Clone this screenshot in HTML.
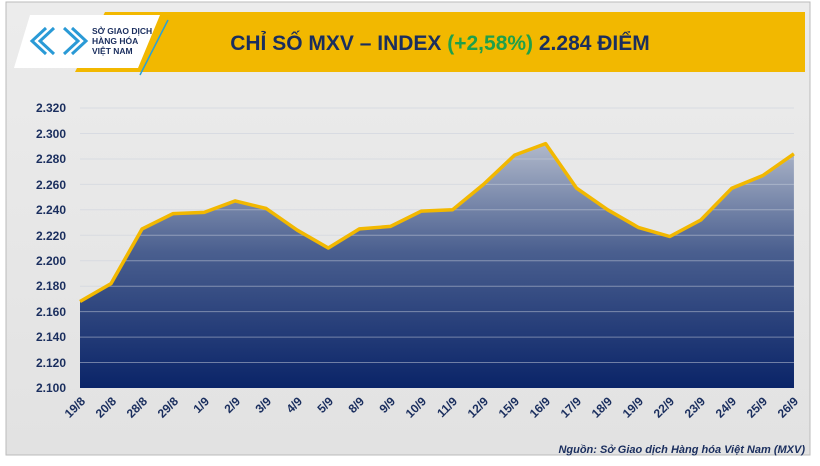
<!DOCTYPE html>
<html><head><meta charset="utf-8"><style>
body{margin:0;width:820px;height:461px;overflow:hidden;background:#fff;font-family:"Liberation Sans",sans-serif}
</style></head><body>
<svg width="820" height="461" xmlns="http://www.w3.org/2000/svg" font-family="Liberation Sans, sans-serif">
<defs>
<linearGradient id="g" gradientUnits="userSpaceOnUse" x1="0" y1="140" x2="0" y2="388">
<stop offset="0" stop-color="#b4bccd"/><stop offset="0.45" stop-color="#4a5f8f"/><stop offset="1" stop-color="#0a2468"/></linearGradient>
<linearGradient id="bg" x1="0" y1="0" x2="0" y2="1"><stop offset="0" stop-color="#ececec"/><stop offset="1" stop-color="#e2e2e2"/></linearGradient>
</defs>
<rect x="0" y="0" width="820" height="461" fill="#fff"/>
<rect x="6" y="2" width="804" height="453" fill="url(#bg)" stroke="#bbb" stroke-width="1"/>
<polygon points="105,12 805,12 805,72 75,72" fill="#f2b800"/>
<polygon points="30,15 160,15 138,68 14,68" fill="#fff"/>
<line x1="168" y1="20" x2="140" y2="75" stroke="#2aa0d8" stroke-width="1.5"/>
<g fill="none" stroke="#2a9ad6" stroke-width="3">
<polyline points="46,28 32,41 46,54"/><polyline points="54,28 40,41 54,54"/><polyline points="64,28 78,41 64,54"/><polyline points="72,28 86,41 72,54"/>
</g>
<text x="92" y="34" font-size="8.5" font-weight="bold" fill="#1a2e5e">SỞ GIAO DỊCH</text>
<text x="92" y="44" font-size="8.5" font-weight="bold" fill="#1a2e5e">HÀNG HÓA</text>
<text x="92" y="54" font-size="8.5" font-weight="bold" fill="#1a2e5e">VIỆT NAM</text>
<text x="440" y="50" font-size="21" font-weight="bold" fill="#1a2e5e" text-anchor="middle">CHỈ SỐ MXV – INDEX <tspan fill="#1fa04a">(+2,58%)</tspan> 2.284 ĐIỂM</text>
<polygon fill="url(#g)" points="80,388 80,301.5 111,283.6 142.1,228.9 173.1,213.6 204.2,212.4 235.2,200.9 266.2,208.5 297.3,230.2 328.3,248 359.4,228.9 390.4,226.4 421.4,211.1 452.5,209.8 483.5,184.4 514.6,155.1 545.6,143.6 576.6,188.2 607.7,209.8 638.7,227.6 669.8,236.5 700.8,220 731.8,188.2 762.9,175.5 793.9,153.8 794,388"/>
<g stroke="#c9cfdc" stroke-width="1" opacity="0.5">
<line x1="80" x2="794" y1="108" y2="108"/><line x1="80" x2="794" y1="133.5" y2="133.5"/><line x1="80" x2="794" y1="159" y2="159"/><line x1="80" x2="794" y1="184.4" y2="184.4"/><line x1="80" x2="794" y1="209.8" y2="209.8"/><line x1="80" x2="794" y1="235.3" y2="235.3"/><line x1="80" x2="794" y1="260.7" y2="260.7"/><line x1="80" x2="794" y1="286.2" y2="286.2"/><line x1="80" x2="794" y1="311.6" y2="311.6"/><line x1="80" x2="794" y1="337.1" y2="337.1"/><line x1="80" x2="794" y1="362.5" y2="362.5"/>
</g>
<polyline fill="none" stroke="#f2b800" stroke-width="3.5" stroke-linejoin="round" points="80,301.5 111,283.6 142.1,228.9 173.1,213.6 204.2,212.4 235.2,200.9 266.2,208.5 297.3,230.2 328.3,248 359.4,228.9 390.4,226.4 421.4,211.1 452.5,209.8 483.5,184.4 514.6,155.1 545.6,143.6 576.6,188.2 607.7,209.8 638.7,227.6 669.8,236.5 700.8,220 731.8,188.2 762.9,175.5 793.9,153.8"/>
<g font-size="12" font-weight="bold" fill="#1a2e5e" text-anchor="end">
<text x="66" y="112">2.320</text><text x="66" y="138">2.300</text><text x="66" y="163">2.280</text><text x="66" y="189">2.260</text><text x="66" y="214">2.240</text><text x="66" y="240">2.220</text><text x="66" y="265">2.200</text><text x="66" y="290">2.180</text><text x="66" y="316">2.160</text><text x="66" y="341">2.140</text><text x="66" y="367">2.120</text><text x="66" y="392">2.100</text>
</g>
<g font-size="12" font-weight="bold" fill="#1a2e5e" text-anchor="end">
<text transform="translate(86,402) rotate(-45)">19/8</text>
<text transform="translate(117,402) rotate(-45)">20/8</text>
<text transform="translate(148,402) rotate(-45)">28/8</text>
<text transform="translate(179,402) rotate(-45)">29/8</text>
<text transform="translate(210,402) rotate(-45)">1/9</text>
<text transform="translate(241,402) rotate(-45)">2/9</text>
<text transform="translate(272,402) rotate(-45)">3/9</text>
<text transform="translate(303,402) rotate(-45)">4/9</text>
<text transform="translate(334,402) rotate(-45)">5/9</text>
<text transform="translate(365,402) rotate(-45)">8/9</text>
<text transform="translate(396,402) rotate(-45)">9/9</text>
<text transform="translate(427,402) rotate(-45)">10/9</text>
<text transform="translate(458,402) rotate(-45)">11/9</text>
<text transform="translate(489,402) rotate(-45)">12/9</text>
<text transform="translate(520,402) rotate(-45)">15/9</text>
<text transform="translate(551,402) rotate(-45)">16/9</text>
<text transform="translate(582,402) rotate(-45)">17/9</text>
<text transform="translate(613,402) rotate(-45)">18/9</text>
<text transform="translate(644,402) rotate(-45)">19/9</text>
<text transform="translate(675,402) rotate(-45)">22/9</text>
<text transform="translate(706,402) rotate(-45)">23/9</text>
<text transform="translate(737,402) rotate(-45)">24/9</text>
<text transform="translate(768,402) rotate(-45)">25/9</text>
<text transform="translate(799,402) rotate(-45)">26/9</text>
</g>
<text x="805" y="453" font-size="11" font-weight="bold" font-style="italic" fill="#1a2e5e" text-anchor="end">Nguồn: Sở Giao dịch Hàng hóa Việt Nam (MXV)</text>
</svg>
</body></html>
